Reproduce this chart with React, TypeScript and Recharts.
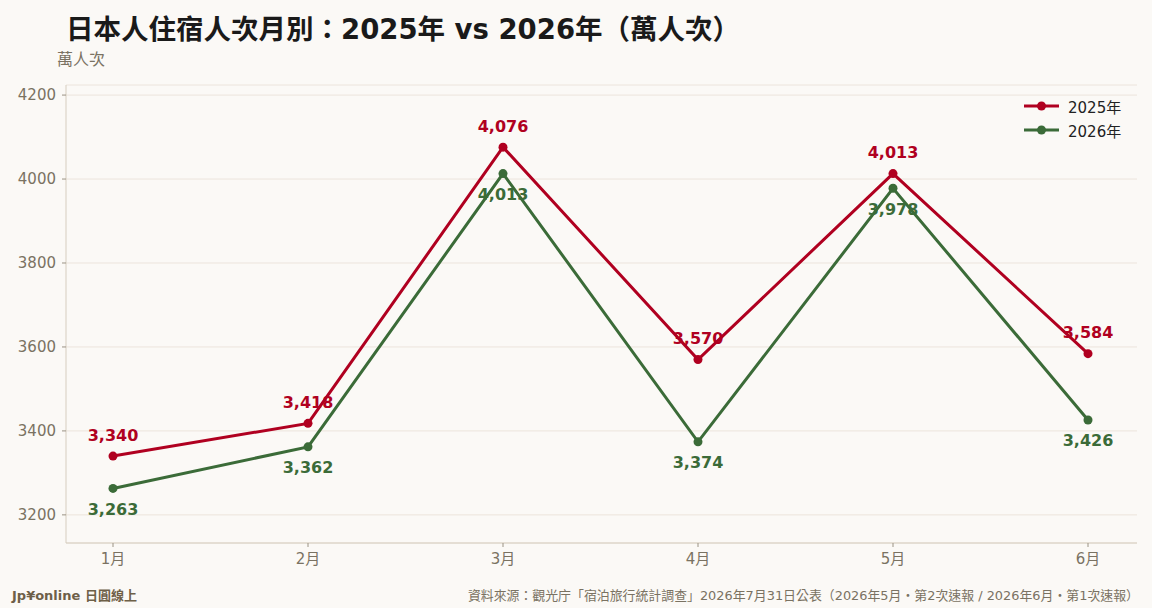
import React from "react";
import {
  LineChart,
  Line,
  XAxis,
  YAxis,
  CartesianGrid,
  LabelList,
} from "recharts";

const months = ["1月", "2月", "3月", "4月", "5月", "6月"];
const stays2025 = [3340, 3418, 4076, 3570, 4013, 3584];
const stays2026 = [3263, 3362, 4013, 3374, 3978, 3426];
const yTicks = [3200, 3400, 3600, 3800, 4000, 4200];
const seriesNames = ["2025年", "2026年"];

const RED = "#b00020";
const GREEN = "#3b6b38";
const MUTED = "#7a7262";
const FONT = "'DejaVu Sans', 'Noto Sans CJK TC', sans-serif";

const data = months.map((m, i) => ({
  month: m,
  y2025: stays2025[i],
  y2026: stays2026[i],
}));

const fmt = (v: number) => v.toLocaleString("en-US");

const makeLabel = (color: string, dy: number) => (props: any) => {
  const { x, y, value } = props;
  return (
    <text
      x={x}
      y={y + dy}
      fill={color}
      fontSize={16}
      fontWeight="bold"
      fontFamily={FONT}
      textAnchor="middle"
      dominantBaseline="central"
    >
      {fmt(value)}
    </text>
  );
};

const LegendBox = () => (
  <div
    style={{
      position: "absolute",
      left: 1024,
      top: 94,
      fontSize: 15,
      color: "#222",
    }}
  >
    {[
      { name: seriesNames[0], color: RED },
      { name: seriesNames[1], color: GREEN },
    ].map((s) => (
      <div
        key={s.name}
        style={{ display: "flex", alignItems: "center", height: 24 }}
      >
        <svg width={35} height={12} style={{ marginRight: 9 }}>
          <line x1={0} y1={6} x2={35} y2={6} stroke={s.color} strokeWidth={3} />
          <circle cx={17.5} cy={6} r={4.5} fill={s.color} />
        </svg>
        <span>{s.name}</span>
      </div>
    ))}
  </div>
);

export default function App() {
  return (
    <div
      style={{
        position: "absolute",
        left: 0,
        top: 0,
        width: 1152,
        height: 608,
        background: "#fbf9f6",
        fontFamily: FONT,
        overflow: "hidden",
      }}
    >
      <div
        style={{
          position: "absolute",
          left: 66,
          top: 7,
          fontSize: 27.5,
          fontWeight: "bold",
          color: "#1a1a1a",
          whiteSpace: "nowrap",
        }}
      >
        日本人住宿人次月別：2025年 vs 2026年（萬人次）
      </div>
      <div
        style={{
          position: "absolute",
          left: 57,
          top: 46,
          fontSize: 16,
          color: MUTED,
        }}
      >
        萬人次
      </div>

      <LineChart
        width={1152}
        height={608}
        data={data}
        margin={{ top: 85, right: 15, left: 8, bottom: 35 }}
      >
        <CartesianGrid vertical={false} stroke="#ece4dc" strokeWidth={1} />
        <XAxis
          dataKey="month"
          padding={{ left: 47, right: 49 }}
          height={30}
          axisLine={{ stroke: "#d6cdbf" }}
          tickLine={{ stroke: "#9a9284" }}
          tickSize={4}
          tick={{ fill: MUTED, fontSize: 15, fontFamily: FONT }}
          tickMargin={6}
        />
        <YAxis
          width={58}
          domain={[3133, 4224]}
          ticks={yTicks}
          allowDataOverflow
          axisLine={{ stroke: "#d6cdbf" }}
          tickLine={{ stroke: "#9a9284" }}
          tickSize={4}
          tickMargin={6}
          tick={{ fill: MUTED, fontSize: 15, fontFamily: FONT }}
        />
        <Line
          dataKey="y2025"
          name={seriesNames[0]}
          stroke={RED}
          strokeWidth={3}
          dot={{ r: 4.5, fill: RED, stroke: RED, strokeWidth: 0 }}
          activeDot={false}
          isAnimationActive={false}
        >
          <LabelList dataKey="y2025" content={makeLabel(RED, -21)} />
        </Line>
        <Line
          dataKey="y2026"
          name={seriesNames[1]}
          stroke={GREEN}
          strokeWidth={3}
          dot={{ r: 4.5, fill: GREEN, stroke: GREEN, strokeWidth: 0 }}
          activeDot={false}
          isAnimationActive={false}
        >
          <LabelList dataKey="y2026" content={makeLabel(GREEN, 21)} />
        </Line>
      </LineChart>

      <LegendBox />

      <div
        style={{
          position: "absolute",
          left: 12,
          top: 585,
          fontSize: 13,
          fontWeight: "bold",
          color: "#6e6048",
          whiteSpace: "nowrap",
        }}
      >
        Jp¥online 日圓線上
      </div>
      <div
        style={{
          position: "absolute",
          right: 13,
          top: 585,
          fontSize: 12.9,
          color: MUTED,
          whiteSpace: "nowrap",
        }}
      >
        資料來源：觀光庁「宿泊旅行統計調查」2026年7月31日公表（2026年5月・第2次速報 / 2026年6月・第1次速報）
      </div>
    </div>
  );
}
